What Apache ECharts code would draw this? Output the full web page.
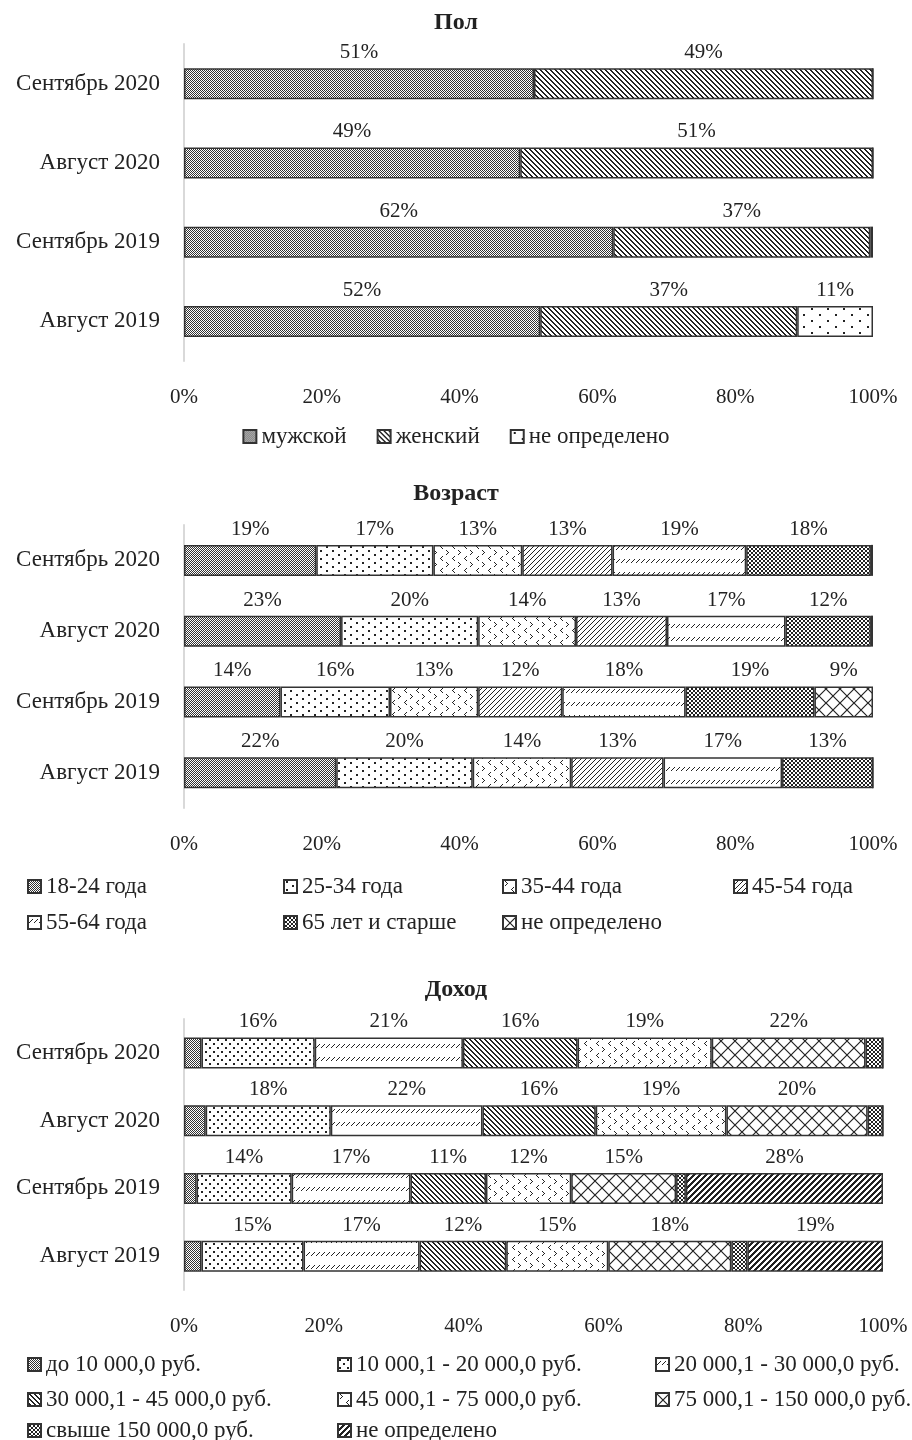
<!DOCTYPE html>
<html>
<head>
<meta charset="utf-8">
<script src="https://cdn.jsdelivr.net/npm/echarts@6/dist/echarts.min.js"></script>
<style>
  html, body { margin: 0; padding: 0; background: #fff; }
  .chart { width: 912px; }
</style>
</head>
<body>
<div id="gender" class="chart" style="height:465px"></div>
<div id="age" class="chart" style="height:485px"></div>
<div id="income" class="chart" style="height:490px"></div>
<script>
// periods, top to bottom
const categories = ['Сентябрь 2020', 'Август 2020', 'Сентябрь 2019', 'Август 2019'];

// Пол
const genderNames = ['мужской', 'женский', 'не определено'];
const genderMale = [50.8, 48.8, 62.3, 51.7];
const genderFemale = [49.2, 51.2, 37.3, 37.3];
const genderUnknown = [0, 0, 0.4, 11.0];

// Возраст
const ageNames = ['18-24 года', '25-34 года', '35-44 года', '45-54 года', '55-64 года', '65 лет и старше', 'не определено'];
const age18 = [19.2, 22.8, 14.0, 22.1];
const age25 = [17.0, 19.9, 15.9, 19.8];
const age35 = [12.9, 14.2, 12.8, 14.3];
const age45 = [13.1, 13.2, 12.2, 13.4];
const age55 = [19.4, 17.2, 17.9, 17.2];
const age65 = [18.1, 12.4, 18.7, 13.2];
const ageUnknown = [0.3, 0.3, 8.5, 0];

// Доход
const incomeNames = ['до 10 000,0 руб.', '10 000,1 - 20 000,0 руб.', '20 000,1 - 30 000,0 руб.',
  '30 000,1 - 45 000,0 руб.', '45 000,1 - 75 000,0 руб.', '75 000,1 - 150 000,0 руб.',
  'свыше 150 000,0 руб.', 'не определено'];
const inc10 = [2.5, 3.1, 1.8, 2.5];
const inc20 = [16.2, 17.9, 13.6, 14.6];
const inc30 = [21.2, 21.7, 17.0, 16.6];
const inc45 = [16.4, 16.2, 10.8, 12.4];
const inc75 = [19.2, 18.7, 12.2, 14.6];
const inc150 = [22.0, 20.2, 15.0, 17.6];
const incOver = [2.5, 2.2, 1.4, 2.3];
const incUnknown = [0, 0, 28.2, 19.4];

const FONT = '"Liberation Serif", "DejaVu Serif", serif';
const INK = '#222';
const NUM_SIZE = 21;
const TEXT_SIZE = 23;

// --- hatch patterns drawn on small canvases ---
function makePattern(w, h, draw) {
  const c = document.createElement('canvas');
  c.width = w; c.height = h;
  const g = c.getContext('2d');
  g.fillStyle = '#fff';
  g.fillRect(0, 0, w, h);
  g.fillStyle = INK;
  g.strokeStyle = INK;
  draw(g, w, h);
  return { image: c, repeat: 'repeat' };
}
const px = (g, x, y) => g.fillRect(x, y, 1, 1);

const patterns = {
  checker: () => makePattern(2, 2, g => { g.fillStyle = '#333'; px(g, 0, 0); px(g, 1, 1); }),
  backslash: () => makePattern(5, 5, g => { for (let i = 0; i < 5; i++) { px(g, i, i); px(g, (i + 1) % 5, i); } }),
  slash: () => makePattern(5, 5, g => { for (let i = 0; i < 5; i++) { px(g, 4 - i, i); } }),
  sparseDots: () => makePattern(16, 12, g => { g.fillRect(3, 2, 2, 2); g.fillRect(11, 8, 2, 2); }),
  dots: () => makePattern(12, 8, g => { g.fillRect(2, 1, 2, 2); g.fillRect(8, 5, 2, 2); }),
  denseDots: () => makePattern(8, 8, g => { g.fillRect(1, 1, 2, 2); g.fillRect(5, 5, 2, 2); }),
  chevrons: () => makePattern(12, 12, g => {
    px(g, 2, 1); px(g, 3, 2); px(g, 4, 3); px(g, 3, 4); px(g, 2, 5);
    px(g, 10, 7); px(g, 9, 8); px(g, 8, 9); px(g, 9, 10); px(g, 10, 11);
  }),
  dashRows: () => makePattern(5, 13, g => {
    for (let k = 0; k < 4; k++) px(g, 4 - k, 3 + k);
  }),
  smallCross: () => makePattern(4, 4, g => { for (let i = 0; i < 4; i++) { px(g, i, i); px(g, 3 - i, i); } }),
  bigCross: () => makePattern(14, 14, g => {
    g.lineWidth = 1.2;
    g.beginPath();
    g.moveTo(0, 0); g.lineTo(14, 14);
    g.moveTo(14, 0); g.lineTo(0, 14);
    g.stroke();
  }),
  thickSlash: () => makePattern(6, 6, g => {
    for (let y = 0; y < 6; y++) for (let k = 0; k < 3; k++) px(g, (5 - y + k) % 6, y);
  })
};

function buildSeries(names, values, fills) {
  return names.map((name, i) => ({
    name: name,
    type: 'bar',
    stack: 'total',
    barWidth: 31,
    data: values[i],
    itemStyle: { color: fills[i](), borderColor: '#333', borderWidth: 1.5 },
    label: {
      show: true,
      position: 'top',
      distance: 5,
      color: INK,
      fontFamily: FONT,
      fontSize: NUM_SIZE,
      formatter: p => (p.value >= 5 ? Math.round(p.value) + '%' : '')
    },
    emphasis: { disabled: true }
  }));
}

function baseAxes() {
  return {
    xAxis: {
      type: 'value', min: 0, max: 100, interval: 20,
      axisLine: { show: false }, axisTick: { show: false }, splitLine: { show: false },
      axisLabel: { formatter: '{value}%', color: INK, fontFamily: FONT, fontSize: NUM_SIZE, margin: 26 }
    },
    yAxis: {
      type: 'category', data: categories, inverse: true,
      axisLine: { show: true, lineStyle: { color: '#d9d9d9', width: 2 } },
      axisTick: { show: false },
      axisLabel: { color: INK, fontFamily: FONT, fontSize: TEXT_SIZE, margin: 24 }
    }
  };
}

const titleStyle = { color: INK, fontFamily: FONT, fontSize: 24, fontWeight: 'bold' };
const legendText = { color: INK, fontFamily: FONT, fontSize: TEXT_SIZE };

function cellLegends(names, cols, rows) {
  return names.map((n, i) => ({
    data: [n],
    left: cols[i % cols.length],
    top: rows[Math.floor(i / cols.length)],
    icon: 'rect', itemWidth: 13, itemHeight: 13,
    textStyle: legendText,
    selectedMode: false
  }));
}

// --- Пол ---
const genderChart = echarts.init(document.getElementById('gender'));
genderChart.setOption(Object.assign({
  animation: false,
  title: { text: 'Пол', left: 'center', top: 6, textStyle: titleStyle },
  grid: { left: 184, right: 39, top: 44, height: 317 },
  legend: {
    data: genderNames, left: 'center', top: 420,
    icon: 'rect', itemWidth: 13, itemHeight: 13, itemGap: 30,
    textStyle: legendText, selectedMode: false
  },
  series: buildSeries(genderNames, [genderMale, genderFemale, genderUnknown],
    [patterns.checker, patterns.backslash, patterns.sparseDots])
}, baseAxes()));

// --- Возраст ---
const ageChart = echarts.init(document.getElementById('age'));
ageChart.setOption(Object.assign({
  animation: false,
  title: { text: 'Возраст', left: 'center', top: 12, textStyle: titleStyle },
  grid: { left: 184, right: 39, top: 60, height: 283 },
  legend: cellLegends(ageNames, [22, 278, 497, 728], [405, 441]),
  series: buildSeries(ageNames, [age18, age25, age35, age45, age55, age65, ageUnknown],
    [patterns.checker, patterns.dots, patterns.chevrons, patterns.slash,
     patterns.dashRows, patterns.smallCross, patterns.bigCross])
}, baseAxes()));

// --- Доход ---
const incomeChart = echarts.init(document.getElementById('income'));
incomeChart.setOption(Object.assign({
  animation: false,
  title: { text: 'Доход', left: 'center', top: 23, textStyle: titleStyle },
  grid: { left: 184, right: 29, top: 69, height: 271 },
  legend: cellLegends(incomeNames, [22, 332, 650], [398, 433, 464]),
  series: buildSeries(incomeNames, [inc10, inc20, inc30, inc45, inc75, inc150, incOver, incUnknown],
    [patterns.checker, patterns.denseDots, patterns.dashRows, patterns.backslash,
     patterns.chevrons, patterns.bigCross, patterns.smallCross, patterns.thickSlash])
}, baseAxes()));
</script>
</body>
</html>
